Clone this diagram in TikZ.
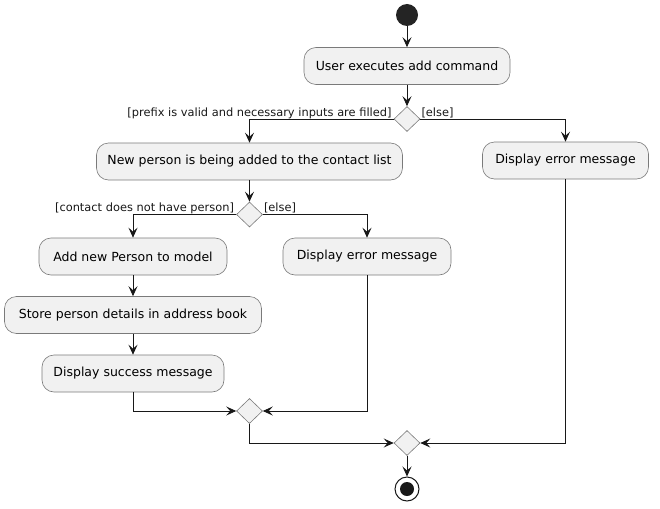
\documentclass[tikz,border=0pt]{standalone}
\usepackage{fontspec}
\setmainfont{DejaVu Sans}
\usetikzlibrary{arrows.meta,shapes.geometric}
\definecolor{boxfill}{HTML}{F1F1F1}
\definecolor{linecol}{HTML}{181818}
\definecolor{bordcol}{HTML}{7A7A7A}
\begin{document}
\begin{tikzpicture}[x=1pt,y=-1pt,
  act/.style={draw=bordcol, line width=0.6pt, fill=boxfill, rounded corners=12pt,
    minimum height=37pt, inner sep=0pt, font=\fontsize{12.5}{14}\selectfont},
  dec/.style={diamond, draw=bordcol, line width=0.6pt, fill=boxfill,
    minimum width=26pt, minimum height=25pt, inner sep=0pt},
  arr/.style={draw=linecol, line width=0.8pt,
    -{Stealth[length=10pt,width=9pt,inset=4pt]}},
  lbl/.style={font=\fontsize{11.4}{13}\selectfont, inner sep=0pt, text=linecol},
  startc/.style={circle, fill=linecol!95!white, minimum size=22pt, inner sep=0pt},
  endc/.style={circle, draw=linecol, line width=1pt, fill=white, minimum size=24pt, inner sep=0pt}
]
\useasboundingbox (0,0) rectangle (660,508);

\node[startc] (start) at (407,15) {};
\node[act, minimum width=206pt] (a1) at (407,66) {User executes add command};
\node[dec] (d1) at (407,119) {};
\node[act, minimum width=306pt] (a2) at (249.5,161.5) {New person is being added to the contact list};
\node[act, minimum width=166pt] (e1) at (565.5,160.5) {Display error message};
\node[dec] (d2) at (249.5,214.5) {};
\node[act, minimum width=188pt] (a3) at (133,256.5) {Add new Person to model};
\node[act, minimum width=168pt] (e2) at (367,256.5) {Display error message};
\node[act, minimum width=257pt] (a4) at (133,315) {Store person details in address book};
\node[act, minimum width=182pt] (a5) at (133,373.5) {Display success message};
\node[dec] (m1) at (249.5,411) {};
\node[dec] (m2) at (407,443) {};
\node[endc] (end) at (407,489) {};
\fill[linecol] (end.center) circle (7pt);

\node[lbl, anchor=base east] (l1) at ([xshift=-2pt,yshift=3pt]d1.west) {[prefix is valid and necessary inputs are filled]};
\node[lbl, anchor=base west] (l2) at ([xshift=1pt,yshift=3pt]d1.east) {[else]};
\node[lbl, anchor=base east] (l3) at ([xshift=-2pt,yshift=3pt]d2.west) {[contact does not have person]};
\node[lbl, anchor=base west] (l4) at ([xshift=1pt,yshift=3pt]d2.east) {[else]};

\draw[arr] (start) -- (a1);
\draw[arr] (a1) -- (d1);
\draw[arr] (d1.west) -| (a2.north);
\draw[arr] (d1.east) -| (e1.north);
\draw[arr] (a2) -- (d2);
\draw[arr] (d2.west) -| (a3.north);
\draw[arr] (d2.east) -| (e2.north);
\draw[arr] (a3) -- (a4);
\draw[arr] (a4) -- (a5);
\draw[arr] (a5.south) |- (m1.west);
\draw[arr] (e2.south) |- (m1.east);
\draw[arr] (m1.south) |- (m2.west);
\draw[arr] (e1.south) |- (m2.east);
\draw[arr] (m2) -- (end);
\end{tikzpicture}
\end{document}
